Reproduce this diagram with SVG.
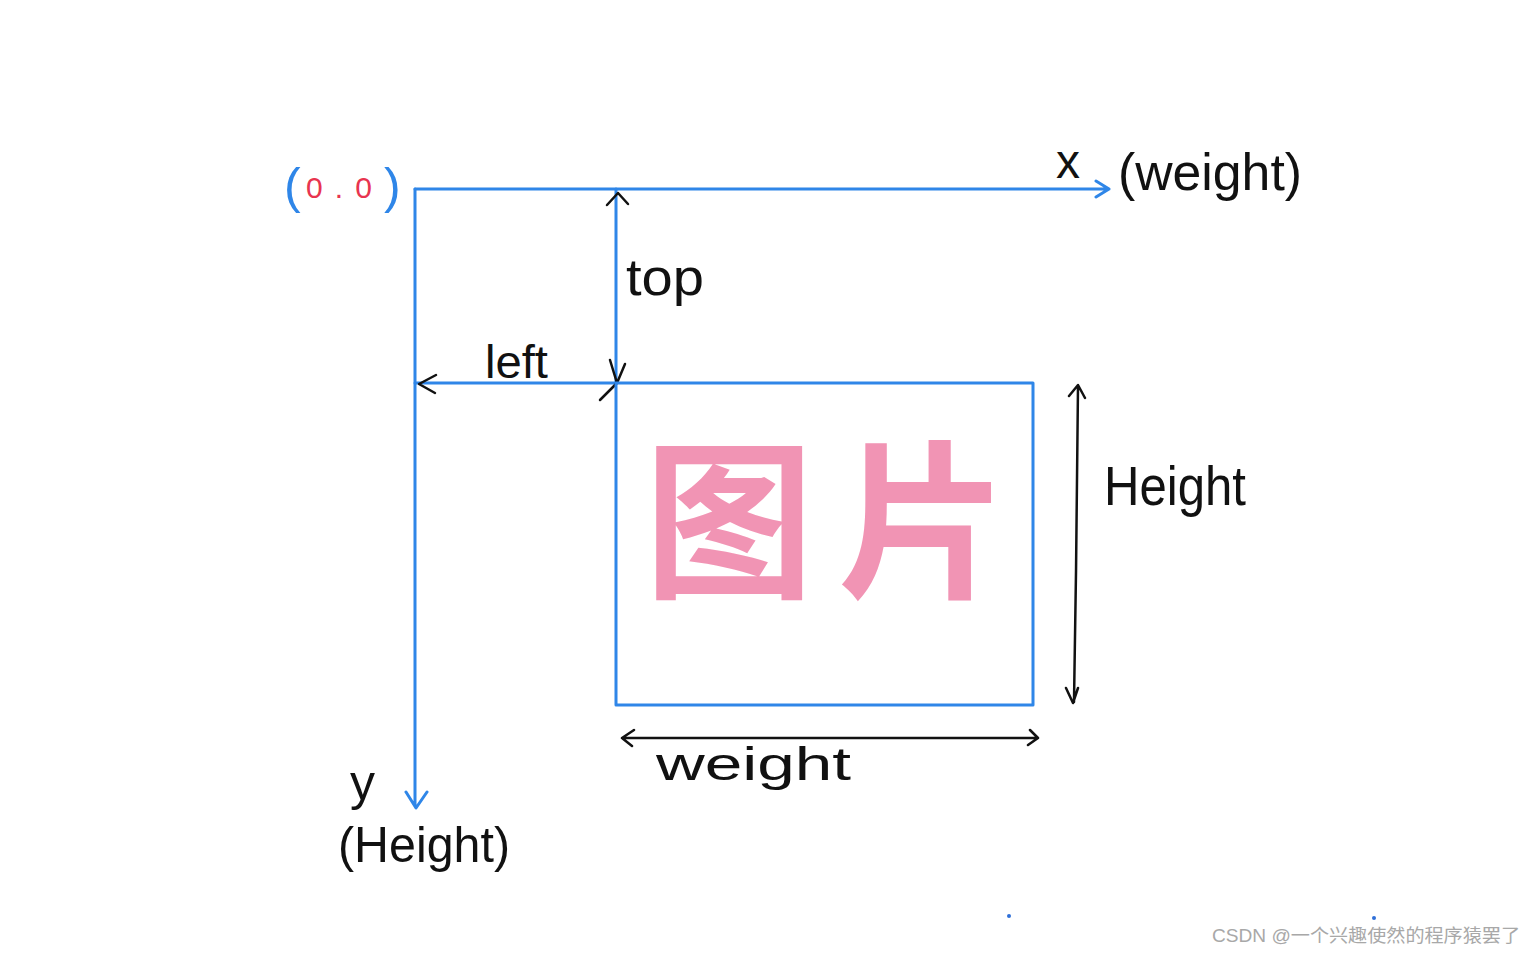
<svg xmlns="http://www.w3.org/2000/svg" width="1536" height="954" viewBox="0 0 1536 954">
<style>
.blue{stroke:#2f86e8;stroke-width:3;fill:none;stroke-linecap:round;stroke-linejoin:round}
.ink{stroke:#111;stroke-width:2.5;fill:none;stroke-linecap:round;stroke-linejoin:round}
.hand{font-family:"Liberation Sans","DejaVu Sans",sans-serif;fill:#111;font-weight:300}
.wm{font-family:"Liberation Sans","Noto Sans CJK SC",sans-serif;fill:#a8a8a8;font-size:18px}
</style>
<rect width="1536" height="954" fill="#fff"/>
<g id="connectors">
  <path class="blue" d="M415,189 H1109 M1096,181 L1109,189 L1096,197"/>
  <path class="blue" d="M415,189 V806 M406,792 L416,808 L427,792"/>
  <path class="blue" d="M616,189 V383 M415,383 H616"/>
  <path class="ink" d="M607,205 L618,193 L628,204"/>
  <path class="ink" d="M610,360 L617,383 L625,364 M600,400 L617,383"/>
  <path class="ink" d="M436,375 L419,384 L435,393"/>
  <path class="ink" d="M1078,386 C1077,480 1076,600 1074,702 M1069,396 L1078,385 L1085,398 M1066,688 L1073,703 L1078,688"/>
  <path class="ink" d="M622,738 H1037 M634,730 L622,738 L632,746 M1030,730 L1038,738 L1028,745"/>
</g>
<g id="origin">
  <text x="284" y="203" font-family="Liberation Sans,sans-serif" font-size="50" fill="#2f86e8" font-weight="300">(</text>
  <text x="306" y="198" font-family="Liberation Sans,sans-serif" font-size="30" fill="#e8344f" textLength="66" lengthAdjust="spacing">0 . 0</text>
  <text x="384" y="203" font-family="Liberation Sans,sans-serif" font-size="50" fill="#2f86e8" font-weight="300">)</text>
</g>
<g id="x-label">
  <text class="hand" x="1056" y="178" font-size="48">x</text>
  <text class="hand" x="1118" y="190" font-size="52" textLength="184" lengthAdjust="spacingAndGlyphs">(weight)</text>
</g>
<g id="top-label"><text class="hand" x="626" y="295" font-size="52" textLength="78" lengthAdjust="spacingAndGlyphs">top</text></g>
<g id="left-label"><text class="hand" x="485" y="378" font-size="46" textLength="63" lengthAdjust="spacingAndGlyphs">left</text></g>
<g id="image">
  <rect x="616" y="383" width="417" height="322" class="blue"/>
  <text x="644" y="585" font-family="Noto Sans CJK SC,sans-serif" font-weight="700" font-size="170" fill="#ec6b97" fill-opacity="0.72" letter-spacing="24">图片</text>
</g>
<g id="height-label"><text class="hand" x="1104" y="505" font-size="56" textLength="142" lengthAdjust="spacingAndGlyphs">Height</text></g>
<g id="weight-label"><text class="hand" x="656" y="780" font-size="46" textLength="195" lengthAdjust="spacingAndGlyphs">weight</text></g>
<g id="y-label">
  <text class="hand" x="350" y="800" font-size="50">y</text>
  <text class="hand" x="338" y="862" font-size="50" textLength="172" lengthAdjust="spacingAndGlyphs">(Height)</text>
</g>
<circle cx="1009" cy="916" r="2" fill="#2f6fd8"/>
<circle cx="1374" cy="918" r="2" fill="#2f6fd8"/>
<text class="wm" x="1212" y="942" textLength="308" lengthAdjust="spacingAndGlyphs">CSDN @一个兴趣使然的程序猿罢了</text>
</svg>
